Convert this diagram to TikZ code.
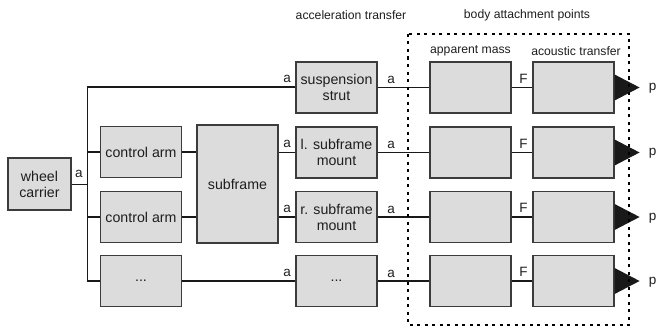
\documentclass[tikz,border=0pt]{standalone}
\usepackage{fontspec}
\setmainfont{Liberation Sans}
\definecolor{boxfill}{RGB}{220,220,220}
\definecolor{boxline}{RGB}{60,60,60}
\definecolor{txt}{RGB}{30,30,30}
\begin{document}
\begin{tikzpicture}[x=1pt,y=-1pt,
  blk/.style={draw=boxline,fill=boxfill,line width=1.2pt,minimum width=81pt,minimum height=51pt,inner sep=1pt,align=center,text=txt,font=\fontsize{14.2}{16}\selectfont},
  lbl/.style={inner sep=0pt,text=txt,font=\fontsize{13.5}{15}\selectfont},
  head/.style={inner sep=0pt,text=txt,font=\fontsize{12.2}{14}\selectfont},
  thk/.style={line width=1.9pt,draw=black!90},
  thn/.style={line width=1.3pt,draw=black!90},
  outp/.style={fill=black!90}]
\useasboundingbox (0,0) rectangle (663,329);
% boxes
\node[blk,minimum width=63pt,minimum height=52pt] (wc) at (39.5,184) {wheel\\carrier};
\node[blk] (ca1) at (141,152) {control arm};
\node[blk] (ca2) at (141,217) {control arm};
\node[blk] (d1) at (141,281) {...};
\node[blk,minimum height=118pt] (sf) at (237.5,184) {subframe};
\node[blk] (ss) at (336.5,87.5) {suspension\\strut};
\node[blk] (lm) at (336.5,152.5) {l. subframe\\mount};
\node[blk] (rm) at (336.5,217) {r. subframe\\mount};
\node[blk] (d2) at (336.5,281) {...};
\foreach \r/\y in {1/87.5,2/152.5,3/217,4/281}{
  \node[blk] (am\r) at (470.5,\y) {};
  \node[blk] (ac\r) at (573.5,\y) {};
}
% bus
\coordinate (bt) at (87.5,87);
\coordinate (bb) at (87.5,281);
\draw[thk] (ss.west |- bt) -- (bt) -- (87.5,281);
\draw[thn] (87.5,280) -- (bb) -- (d1.west |- bb);
\draw[line width=1pt,draw=black!90] (wc.east) -- (wc.east -| bt);
\draw[thk] (ca1.west) -- (ca1.west -| bt);
\draw[thk] (ca2.west) -- (ca2.west -| bt);
\draw[thk] (ca1.east) -- (ca1.east -| sf.west);
\draw[thk] (ca2.east) -- (ca2.east -| sf.west);
\draw[thn] (lm.west) -- (lm.west -| sf.east);
\draw[thk] (rm.west) -- (rm.west -| sf.east);
\draw[thn] (d1.east) -- (d2.west);
% to body
\draw[thk] (ss.east) -- (am1.west);
\draw[thn] (lm.east) -- (am2.west);
\draw[thk] (rm.east) -- (am3.west);
\draw[thn] (d2.east) -- (am4.west);
\draw[thk] (am1.east) -- (ac1.west);
\draw[thk] (am2.east) -- (ac2.west);
\draw[thk] (am3.east) -- (ac3.west);
\draw[thn] (am4.east) -- (ac4.west);
% output triangles
\foreach \r in {1,2,3,4}{
  \fill[outp] ([yshift=13pt]ac\r.east) -- ([xshift=25pt]ac\r.east) -- ([yshift=-13pt]ac\r.east) -- cycle;
  \node[lbl] (p\r) at ([xshift=38pt,yshift=-1pt]ac\r.east) {p};
  \node[lbl] (F\r) at ([xshift=12pt,yshift=9pt]am\r.east) {F};
}
% a labels
\node[lbl] (awc) at (79,174) {a};
\node[lbl] (a1l) at (287,79) {a};
\node[lbl] (a1r) at (391,80) {a};
\node[lbl] (a2l) at (287,144) {a};
\node[lbl] (a2r) at (391,145) {a};
\node[lbl] (a3l) at (287,209) {a};
\node[lbl] (a3r) at (391,210) {a};
\node[lbl] (a4l) at (287,273) {a};
\node[lbl] (a4r) at (391,274) {a};
% dotted region
\draw[line width=1.5pt,dash pattern=on 3pt off 4.5pt] (408,34) rectangle (629,325);
% headings
\node[head] (h1) at (351,15) {acceleration transfer};
\node[head] (h2) at (527,15) {body attachment points};
\node[head] (h3) at (470.5,51) {apparent mass};
\node[head] (h4) at (576,51) {acoustic transfer};
\end{tikzpicture}
\end{document}
